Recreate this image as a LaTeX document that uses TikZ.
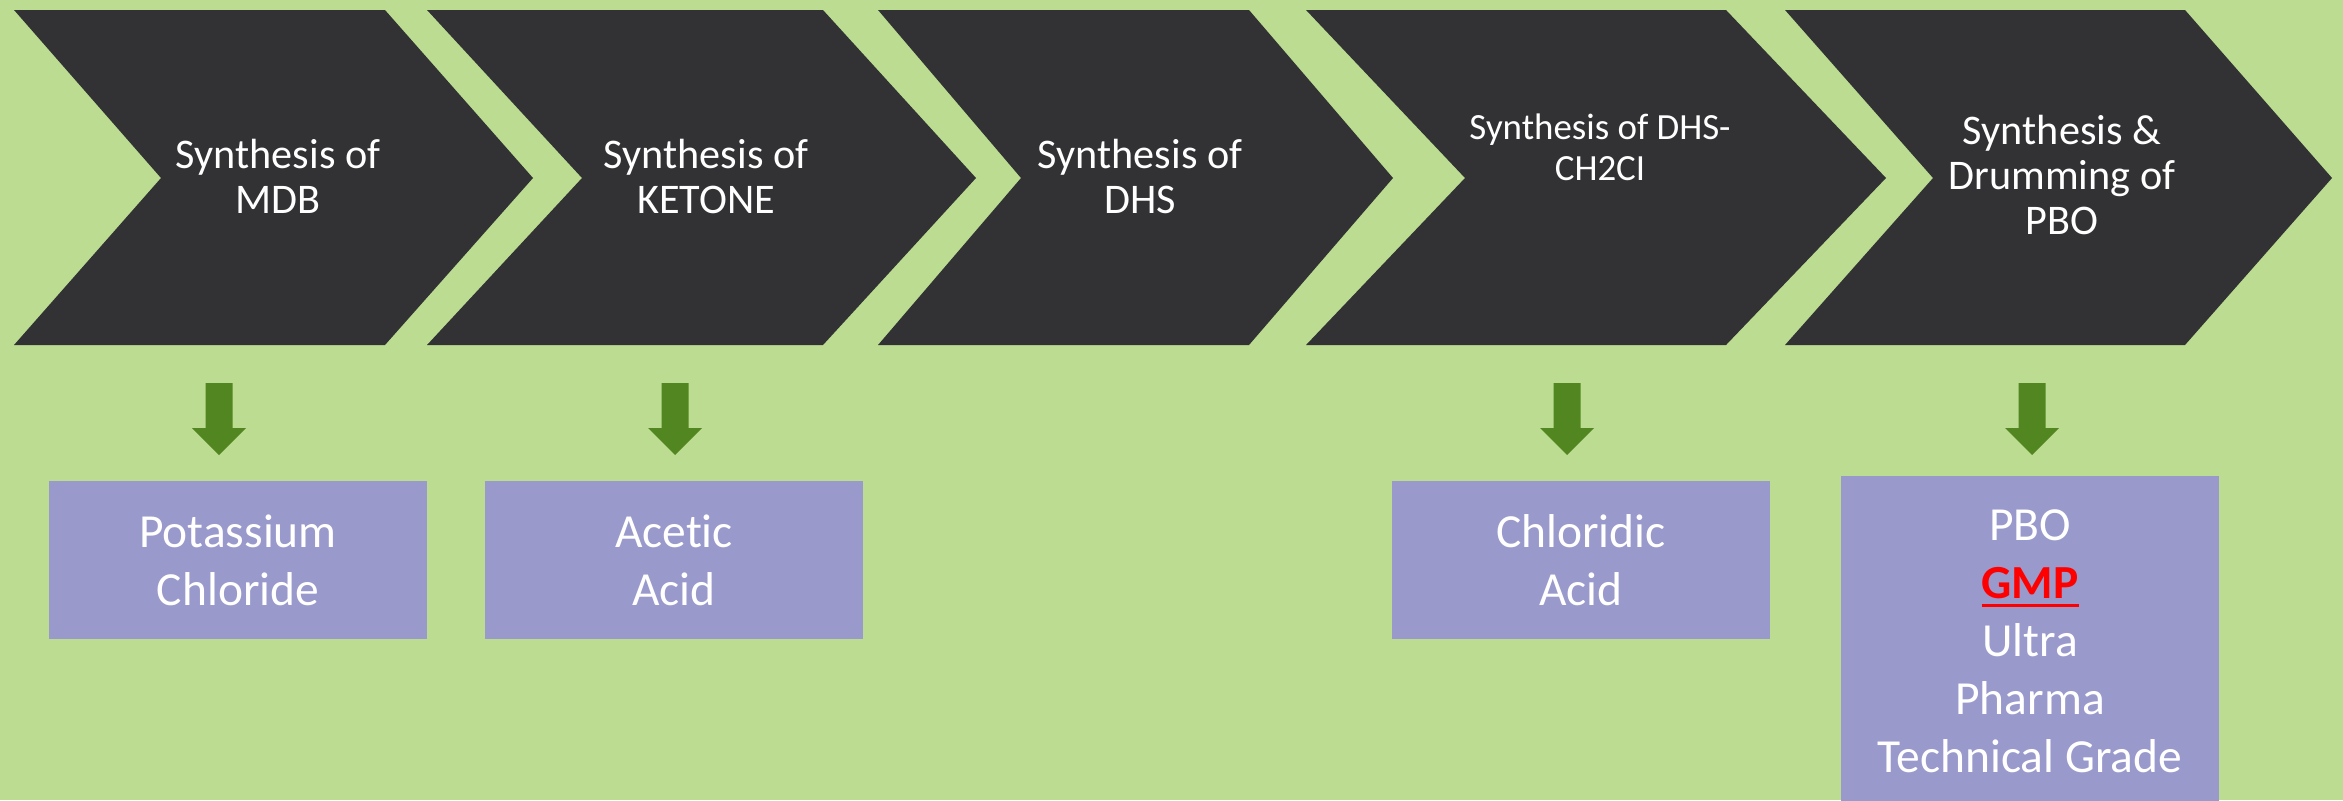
\documentclass[tikz,border=0pt]{standalone}
\usepackage{fontspec}
\setmainfont{Carlito}[Ligatures=NoCommon]
\definecolor{bggreen}{RGB}{187,220,145}
\definecolor{chevgray}{RGB}{50,50,53}
\definecolor{prodblue}{RGB}{153,153,204}
\definecolor{arrgreen}{RGB}{82,134,32}
\definecolor{gmpred}{RGB}{255,0,0}
\newcommand{\ulbold}[1]{\setbox0=\hbox{\textbf{#1}}\rlap{\rule[-2.6pt]{\wd0}{0.9pt}}\box0}
\tikzset{
  chev/.style={fill=chevgray},
  steplabel/.style={text=white, align=center, inner sep=0pt, font=\fontsize{12}{12.8}\selectfont},
  prodbox/.style={fill=prodblue, text=white, align=center, inner sep=0pt,
    minimum width=3.78cm, minimum height=1.57cm, font=\fontsize{13.5}{16.5}\selectfont},
  downarr/.style={fill=arrgreen}
}
\begin{document}
\begin{tikzpicture}[x=0.01cm, y=-0.01cm]
  \useasboundingbox (0,0) rectangle (2343,800);
  \fill[bggreen] (0,0) rectangle (2343,800);
  % process chevrons
  \fill[chev] (14,10) -- (385,10) -- (533,178) -- (385,345) -- (14,345) -- (161,178) -- cycle;
  \fill[chev] (427,10) -- (823,10) -- (976,178) -- (823,345) -- (427,345) -- (582,178) -- cycle;
  \fill[chev] (878,10) -- (1249,10) -- (1393,178) -- (1249,345) -- (878,345) -- (1021,178) -- cycle;
  \fill[chev] (1306,10) -- (1726,10) -- (1886,178) -- (1726,345) -- (1306,345) -- (1465,178) -- cycle;
  \fill[chev] (1785,10) -- (2185,10) -- (2332,178) -- (2185,345) -- (1785,345) -- (1933,178) -- cycle;
  \node[steplabel] (mdb) at (278,176) {Synthesis of\\MDB};
  \node[steplabel] (ketone) at (706,176) {Synthesis of\\KETONE};
  \node[steplabel] (dhs) at (1140,176) {Synthesis of\\DHS};
  \node[steplabel, font=\fontsize{10.5}{11.7}\selectfont] (dhscl) at (1600,147) {Synthesis of DHS-\\CH2CI};
  \node[steplabel] (pbo) at (2062,175) {Synthesis \&\\Drumming of\\PBO};
  % by-products
  \foreach \c in {219,675,1567,2032}
    \fill[downarr] ({\c-13.5},383) -- ({\c+13.5},383) -- ({\c+13.5},428) -- ({\c+27},428)
      -- (\c,455) -- ({\c-27},428) -- ({\c-13.5},428) -- cycle;
  \node[prodbox] (kcl) at (238,560) {Potassium\\Chloride};
  \node[prodbox] (acetic) at (674,560) {Acetic\\Acid};
  \node[prodbox] (hcl) at (1581,560) {Chloridic\\Acid};
  \node[prodbox, minimum height=3.3cm] (grades) at (2030,641)
    {PBO\\{\color{gmpred}\ulbold{GMP}}\\Ultra\\Pharma\\Technical Grade};
\end{tikzpicture}
\end{document}
